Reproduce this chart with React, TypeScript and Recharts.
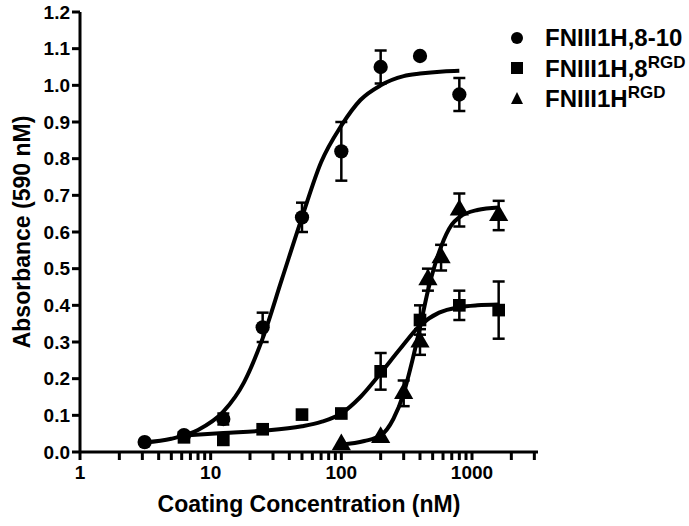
import { ComposedChart, Line, Scatter, XAxis, YAxis, ZAxis, ErrorBar } from "recharts";

const FONT = "'Liberation Sans', Arial, sans-serif";

// FNIII1H,8-10 (circles)
const conc810 = [3.125, 6.25, 12.5, 25, 50, 100, 200, 400, 800];
const abs810 = [0.027, 0.046, 0.09, 0.34, 0.64, 0.82, 1.05, 1.08, 0.975];
const err810 = [null, null, 0.015, 0.04, 0.04, 0.08, 0.045, null, 0.045];
const fitX810 = [3.125, 5, 8, 12.5, 18, 25, 35, 50, 70, 100, 140, 200, 300, 400, 600, 800];
const fitY810 = [0.026, 0.036, 0.06, 0.11, 0.19, 0.31, 0.47, 0.64, 0.79, 0.89, 0.96, 1.0, 1.025, 1.032, 1.038, 1.04];

// FNIII1H,8 RGD (squares)
const conc8rgd = [6.25, 12.5, 25, 50, 100, 200, 400, 800, 1600];
const abs8rgd = [0.04, 0.033, 0.062, 0.102, 0.105, 0.22, 0.36, 0.4, 0.387];
const err8rgd = [null, null, null, null, null, 0.05, 0.04, 0.04, 0.078];
const fitX8rgd = [6.25, 12.5, 25, 50, 70, 100, 140, 200, 280, 400, 560, 800, 1100, 1600];
const fitY8rgd = [0.045, 0.052, 0.058, 0.07, 0.082, 0.105, 0.15, 0.215, 0.28, 0.345, 0.38, 0.395, 0.4, 0.402];

// FNIII1H RGD (triangles)
const concRgd = [100, 200, 300, 400, 460, 580, 800, 1600];
const absRgd = [0.02, 0.04, 0.16, 0.3, 0.47, 0.53, 0.66, 0.645];
const errRgd = [null, null, 0.035, 0.035, 0.03, 0.035, 0.045, 0.04];
const fitXRgd = [100, 150, 200, 250, 300, 350, 400, 460, 520, 580, 700, 800, 1100, 1600];
const fitYRgd = [0.02, 0.03, 0.045, 0.09, 0.16, 0.25, 0.34, 0.44, 0.51, 0.56, 0.62, 0.64, 0.66, 0.667];

const xTicks = [
  1, 2, 3, 4, 5, 6, 7, 8, 9,
  10, 20, 30, 40, 50, 60, 70, 80, 90,
  100, 200, 300, 400, 500, 600, 700, 800, 900,
  1000, 2000, 3000,
];
const xMajor = [1, 10, 100, 1000];
const yTicks = [0, 0.1, 0.2, 0.3, 0.4, 0.5, 0.6, 0.7, 0.8, 0.9, 1.0, 1.1, 1.2];

const legendItems = [
  { shape: "circle", name: "FNIII1H,8-10", sup: "" },
  { shape: "square", name: "FNIII1H,8", sup: "RGD" },
  { shape: "triangle", name: "FNIII1H", sup: "RGD" },
];

const pts = (xs: number[], ys: number[], es?: (number | null)[]) =>
  xs.map((x, i) => ({ x, y: ys[i], err: es ? es[i] : null }));

const XTick = ({ x, y, payload }: any) =>
  xMajor.includes(payload.value) ? (
    <text x={x} y={y} dy={17} textAnchor="middle" fontFamily={FONT} fontWeight={700} fontSize={19} fill="#000">
      {payload.value}
    </text>
  ) : (
    <g />
  );

const Marker = ({ shape }: { shape: string }) => (
  <svg width={14} height={14} style={{ display: "block" }}>
    {shape === "circle" && <circle cx={7} cy={7} r={6} fill="#000" />}
    {shape === "square" && <rect x={1} y={1} width={12} height={12} fill="#000" />}
    {shape === "triangle" && <polygon points="7,1 13,13 1,13" fill="#000" />}
  </svg>
);

const LegendBox = () => (
  <div
    style={{
      position: "absolute",
      left: 510,
      top: 23,
      fontFamily: FONT,
      fontWeight: 700,
      fontSize: 24,
      color: "#000",
    }}
  >
    {legendItems.map((it) => (
      <div key={it.name + it.sup} style={{ display: "flex", alignItems: "center", height: 30 }}>
        <div style={{ width: 35 }}>
          <Marker shape={it.shape} />
        </div>
        <span>
          {it.name}
          {it.sup && <sup style={{ fontSize: 17 }}>{it.sup}</sup>}
        </span>
      </div>
    ))}
  </div>
);

export default function App() {
  return (
    <div style={{ position: "absolute", left: 0, top: 0, width: 689, height: 526, background: "#fff" }}>
      <ComposedChart width={689} height={526} margin={{ top: 12, right: 151, bottom: 0, left: 0 }}>
        <XAxis
          type="number"
          dataKey="x"
          scale="log"
          domain={[1, 3200]}
          allowDataOverflow
          ticks={xTicks}
          interval={0}
          tick={<XTick />}
          tickSize={8}
          height={74}
          axisLine={{ stroke: "#000", strokeWidth: 3 }}
          tickLine={{ stroke: "#000", strokeWidth: 3 }}
          label={{
            value: "Coating Concentration (nM)",
            position: "insideBottom",
            offset: 14,
            style: { fontFamily: FONT, fontWeight: 700, fontSize: 23, fill: "#000" },
          }}
        />
        <YAxis
          type="number"
          dataKey="y"
          domain={[0, 1.2]}
          ticks={yTicks}
          interval={0}
          width={80}
          tickSize={8}
          tickFormatter={(v: number) => v.toFixed(1)}
          tick={{ fontFamily: FONT, fontWeight: 700, fontSize: 19, fill: "#000" }}
          axisLine={{ stroke: "#000", strokeWidth: 3 }}
          tickLine={{ stroke: "#000", strokeWidth: 3 }}
          label={{
            value: "Absorbance (590 nM)",
            angle: -90,
            position: "center",
            dx: -18,
            style: { fontFamily: FONT, fontWeight: 700, fontSize: 23, fill: "#000", textAnchor: "middle" },
          }}
        />
        <ZAxis range={[160, 160]} />
        <Line data={pts(fitX810, fitY810)} dataKey="y" type="monotone" stroke="#000" strokeWidth={4} dot={false} isAnimationActive={false} />
        <Line data={pts(fitX8rgd, fitY8rgd)} dataKey="y" type="monotone" stroke="#000" strokeWidth={4} dot={false} isAnimationActive={false} />
        <Line data={pts(fitXRgd, fitYRgd)} dataKey="y" type="monotone" stroke="#000" strokeWidth={4} dot={false} isAnimationActive={false} />
        <Scatter data={pts(conc810, abs810, err810)} dataKey="y" shape="circle" fill="#000" isAnimationActive={false}>
          <ErrorBar dataKey="err" direction="y" width={6} stroke="#000" strokeWidth={2.5} />
        </Scatter>
        <Scatter data={pts(conc8rgd, abs8rgd, err8rgd)} dataKey="y" shape="square" fill="#000" isAnimationActive={false}>
          <ErrorBar dataKey="err" direction="y" width={6} stroke="#000" strokeWidth={2.5} />
        </Scatter>
        <Scatter data={pts(concRgd, absRgd, errRgd)} dataKey="y" shape="triangle" fill="#000" isAnimationActive={false}>
          <ErrorBar dataKey="err" direction="y" width={6} stroke="#000" strokeWidth={2.5} />
        </Scatter>
      </ComposedChart>
      <LegendBox />
    </div>
  );
}
